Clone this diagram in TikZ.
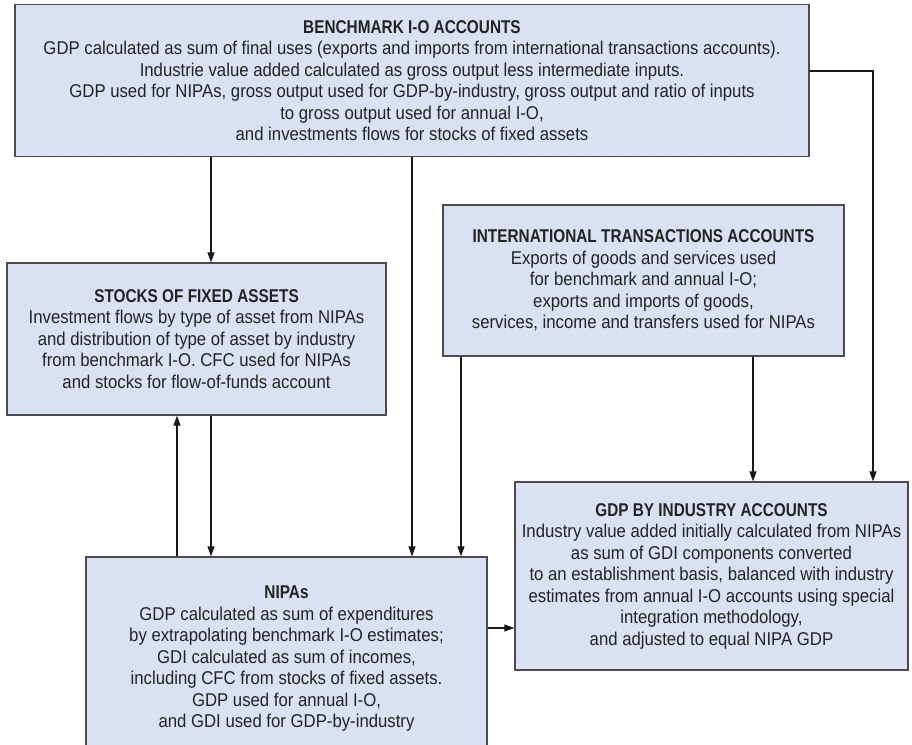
\documentclass[tikz,border=0pt]{standalone}
\usepackage{fontspec}
\setmainfont{Liberation Sans}[FakeStretch=0.905, BoldFeatures={FakeStretch=0.83}]
\usetikzlibrary{arrows.meta}
\definecolor{boxfill}{RGB}{217,225,242}
\definecolor{boxline}{RGB}{75,75,80}
\definecolor{txt}{RGB}{35,35,35}
\begin{document}
\begin{tikzpicture}[x=1pt,y=-1pt,
  box/.style={draw=boxline, fill=boxfill, line width=1.3pt, align=center, inner sep=0pt,
    font=\fontsize{18.5}{21.5}\selectfont, text=txt},
  arr/.style={draw=black!90, line width=1.1pt, -{Triangle[length=10pt,width=7pt]}}]
\useasboundingbox (0,0) rectangle (912,744);
\fill[white] (0,0) rectangle (912,744);

\node[box, minimum width=794pt, minimum height=152pt] (bench) at (412,80.5)
 {\textbf{BENCHMARK I-O ACCOUNTS}\\
  GDP calculated as sum of final uses (exports and imports from international transactions accounts).\\
  Industrie value added calculated as gross output less intermediate inputs.\\
  GDP used for NIPAs, gross output used for GDP-by-industry, gross output and ratio of inputs\\
  to gross output used for annual I-O,\\
  and investments flows for stocks of fixed assets};

\node[box, minimum width=379pt, minimum height=152pt] (stocks) at (196.5,339)
 {\textbf{STOCKS OF FIXED ASSETS}\\
  Investment flows by type of asset from NIPAs\\
  and distribution of type of asset by industry\\
  from benchmark I-O. CFC used for NIPAs\\
  and stocks for flow-of-funds account};

\node[box, minimum width=401pt, minimum height=151pt] (ita) at (643.5,280.5)
 {\textbf{INTERNATIONAL TRANSACTIONS ACCOUNTS}\\
  Exports of goods and services used\\
  for benchmark and annual I-O;\\
  exports and imports of goods,\\
  services, income and transfers used for NIPAs};

\node[box, minimum width=401pt, minimum height=204pt] (nipa) at (286.5,659)
 {\textbf{NIPAs}\\
  GDP calculated as sum of expenditures\\
  by extrapolating benchmark I-O estimates;\\
  GDI calculated as sum of incomes,\\
  including CFC from stocks of fixed assets.\\
  GDP used for annual I-O,\\
  and GDI used for GDP-by-industry};

\node[box, minimum width=393pt, minimum height=188pt] (gdpind) at (711.5,576)
 {\textbf{GDP BY INDUSTRY ACCOUNTS}\\
  Industry value added initially calculated from NIPAs\\
  as sum of GDI components converted\\
  to an establishment basis, balanced with industry\\
  estimates from annual I-O accounts using special\\
  integration methodology,\\
  and adjusted to equal NIPA GDP};

\coordinate (xa) at (211,0);
\coordinate (xb) at (412,0);
\coordinate (xc) at (461,0);
\coordinate (xd) at (753,0);
\coordinate (xe) at (873,0);
\coordinate (xf) at (177,0);
\coordinate (ya) at (0,71);
\coordinate (yb) at (0,628);

\draw[arr] (bench.south -| xa) -- (stocks.north -| xa);
\draw[arr] (bench.south -| xb) -- (nipa.north -| xb);
\draw[arr] (bench.east |- ya) -| (gdpind.north -| xe);
\draw[arr] (ita.south -| xc) -- (nipa.north -| xc);
\draw[arr] (ita.south -| xd) -- (gdpind.north -| xd);
\draw[arr] (nipa.north -| xf) -- (stocks.south -| xf);
\draw[arr] (stocks.south -| xa) -- (nipa.north -| xa);
\draw[arr] (nipa.east |- yb) -- (gdpind.west |- yb);
\end{tikzpicture}
\end{document}
